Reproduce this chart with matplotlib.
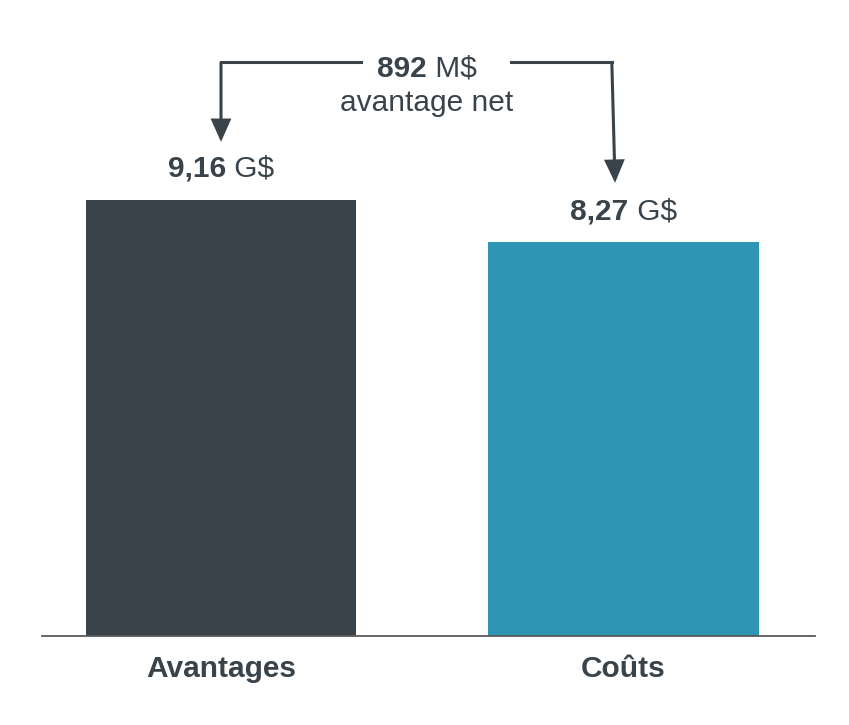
import matplotlib.pyplot as plt
from matplotlib.transforms import offset_copy

categories = ['Avantages', 'Coûts']
values = [9.16, 8.27]
value_bold = ['9,16', '8,27']
value_unit = ['G$']
net_bold = '892'
net_unit = 'M$'
net_caption = 'avantage net'

dark = '#39434c'
teal = '#2e95b4'
plt.rcParams['font.family'] = ['Liberation Sans', 'DejaVu Sans']
fs = 21.5

fig = plt.figure(figsize=(8.49, 7.25), dpi=100)
ax = fig.add_axes([42 / 849, 89 / 725, 773 / 849, 636 / 725])

x = list(range(len(categories)))
ax.bar(x, values, width=0.671, color=[dark, teal])
ax.set_xlim(-0.4447, 1.4758)
ax.set_ylim(0, 13.36)

for s in ['top', 'right', 'left']:
    ax.spines[s].set_visible(False)
ax.spines['bottom'].set_color('#5a5a5a')
ax.spines['bottom'].set_linewidth(1.3)
ax.set_yticks([])
ax.set_xticks(x)
ax.set_xticklabels(categories, fontsize=fs, fontweight='bold', color=dark)
ax.tick_params(axis='x', length=0, pad=14)

fig.canvas.draw()
renderer = fig.canvas.get_renderer()


def mixed_label(xc, yc, bold, regular):
    # bold number followed by a regular unit, centered as a whole
    t1 = ax.text(xc, yc, bold, fontsize=fs, fontweight='bold', color=dark,
                 ha='left', va='center')
    w1 = t1.get_window_extent(renderer).width
    t2 = ax.text(xc, yc, ' ' + regular, fontsize=fs, color=dark,
                 ha='left', va='center')
    w2 = t2.get_window_extent(renderer).width
    total = (w1 + w2) * 72 / fig.dpi
    t1.set_transform(offset_copy(ax.transData, fig=fig, x=-total / 2, units='points'))
    t2.set_transform(offset_copy(ax.transData, fig=fig, x=-total / 2 + w1 * 72 / fig.dpi,
                                 units='points'))


for i, v in enumerate(values):
    mixed_label(x[i], v + 0.65, value_bold[i], value_unit[0])

# net benefit bracket
top = 12.06
mid = 0.512
mixed_label(mid, 11.92, net_bold, net_unit)
ax.text(mid, 11.2, net_caption, fontsize=fs, color=dark, ha='center', va='center')

lw = 2.2
left_x = x[0]
right_x = x[1] - 0.029
ax.plot([left_x, 0.348], [top, top], color=dark, lw=lw, solid_capstyle='projecting')
ax.plot([0.720, right_x], [top, top], color=dark, lw=lw, solid_capstyle='projecting')
arrow = dict(arrowstyle='-|>,head_length=1.3,head_width=0.58', lw=lw, color=dark,
             shrinkA=0, shrinkB=0, joinstyle='miter', capstyle='butt')
ax.annotate('', xy=(left_x, values[0] + 1.22), xytext=(left_x, top),
            arrowprops=arrow)
ax.annotate('', xy=(right_x + 0.008, values[1] + 1.25), xytext=(right_x, top),
            arrowprops=arrow)

fig.savefig('out.png', dpi=100)
